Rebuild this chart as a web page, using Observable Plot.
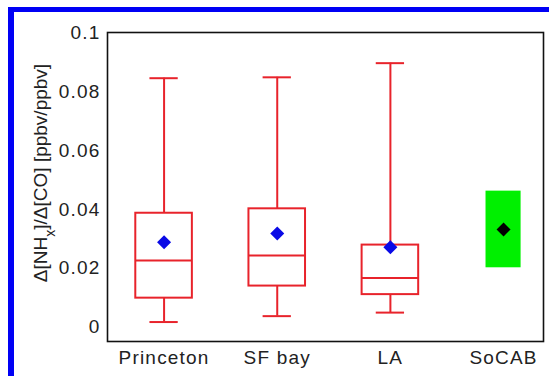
<!DOCTYPE html>
<html>
<head>
<meta charset="utf-8">
<script src="https://cdn.jsdelivr.net/npm/d3@7"></script>
<script src="https://cdn.jsdelivr.net/npm/@observablehq/plot@0.6"></script>
<style>
  html, body { margin: 0; padding: 0; background: #fff; overflow: hidden; }
  #wrap { position: relative; width: 549px; height: 376px; overflow: hidden; }
  #border { position: absolute; left: 8px; top: 7px; width: 600px; height: 400px;
            border-left: 6px solid #0000f5; border-top: 5px solid #0000f5; box-sizing: border-box; }
  #chart { position: absolute; left: 0; top: 0; }
</style>
</head>
<body>
<div id="wrap"><div id="border"></div><div id="chart"></div></div>
<script>
const categories = ["Princeton", "SF bay", "LA", "SoCAB"];
const boxSites = ["Princeton", "SF bay", "LA"];
const whiskerLow  = [0.0018, 0.0038, 0.0050];
const q1          = [0.0099, 0.0140, 0.0111];
const median      = [0.0227, 0.0244, 0.0167];
const q3          = [0.0387, 0.0402, 0.0279];
const whiskerHigh = [0.0845, 0.0848, 0.0896];
const meanValues  = [0.0289, 0.0318, 0.0272];
const socabLow = 0.0202, socabHigh = 0.0462, socabMean = 0.0332;
const yTicks = [0, 0.02, 0.04, 0.06, 0.08, 0.1];
const yTickLabels = ["0", "0.02", "0.04", "0.06", "0.08", "0.1"];

const boxes = boxSites.map((s, i) => ({
  pos: categories.indexOf(s) + 1, low: whiskerLow[i], q1: q1[i], med: median[i],
  q3: q3[i], high: whiskerHigh[i], mean: meanValues[i]
}));
const socab = [{pos: categories.indexOf("SoCAB") + 1, low: socabLow, high: socabHigh, mean: socabMean}];

const red = "#e8232b";
const hw = 0.25, cw = 0.125, gw = 0.155;

const chart = Plot.plot({
  width: 549, height: 376,
  marginLeft: 107, marginRight: 6, marginTop: 32, marginBottom: 35,
  style: {fontFamily: "'Liberation Sans', Arial, sans-serif", fontSize: "19px", color: "#222", background: "transparent"},
  x: {type: "linear", domain: [0.5, 4.353], ticks: [1, 2, 3, 4], tickFormat: d => categories[d - 1], tickSize: 0, tickPadding: 9, label: null},
  y: {domain: [-0.0048, 0.1], ticks: yTicks, tickFormat: d => yTickLabels[yTicks.indexOf(d)], tickSize: 0, tickPadding: 7,
      label: "Δ[NHx]/Δ[CO] [ppbv/ppbv]", labelAnchor: "center", labelArrow: "none", labelOffset: 74},
  marks: [
    Plot.rect(socab, {x1: d => d.pos - gw, x2: d => d.pos + gw, y1: "low", y2: "high", fill: "#00f000"}),
    Plot.ruleX(boxes, {x: "pos", y1: "q3", y2: "high", stroke: red, strokeWidth: 2}),
    Plot.ruleX(boxes, {x: "pos", y1: "low", y2: "q1", stroke: red, strokeWidth: 2}),
    Plot.ruleY(boxes, {y: "high", x1: d => d.pos - cw, x2: d => d.pos + cw, stroke: red, strokeWidth: 2}),
    Plot.ruleY(boxes, {y: "low", x1: d => d.pos - cw, x2: d => d.pos + cw, stroke: red, strokeWidth: 2}),
    Plot.rect(boxes, {x1: d => d.pos - hw, x2: d => d.pos + hw, y1: "q1", y2: "q3", fill: "none", stroke: red, strokeWidth: 2}),
    Plot.ruleY(boxes, {y: "med", x1: d => d.pos - hw, x2: d => d.pos + hw, stroke: red, strokeWidth: 2}),
    Plot.dot(boxes, {x: "pos", y: "mean", symbol: "diamond2", r: 6.3, fill: "#0a0ae6", stroke: "none"}),
    Plot.dot(socab, {x: "pos", y: "mean", symbol: "diamond2", r: 6.3, fill: "#000", stroke: "none"}),
    Plot.frame({stroke: "#111", strokeWidth: 1.6})
  ]
});

// horizontal text slightly widened (source image is stretched horizontally)
d3.select(chart).selectAll("[aria-label='x-axis tick label'] text, [aria-label='y-axis tick label'] text")
  .style("letter-spacing", "1.2px");

// subscript in the y label
d3.select(chart).selectAll("text").each(function() {
  if (this.textContent.includes("[CO]")) {
    const t = d3.select(this);
    t.text(null);
    t.append("tspan").attr("dx", 14).text("Δ[NH");
    t.append("tspan").attr("baseline-shift", "sub").attr("font-size", "14px").text("x");
    t.append("tspan").text("]/Δ[CO] [ppbv/ppbv]");
  }
});

document.getElementById("chart").appendChild(chart);
</script>
</body>
</html>
